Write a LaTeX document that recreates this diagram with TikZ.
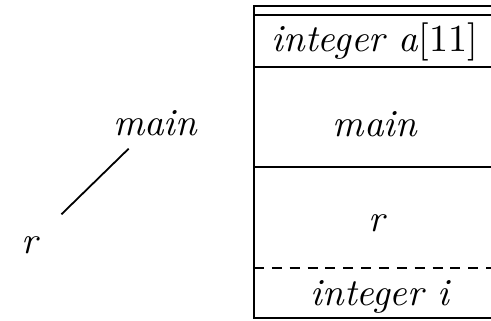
\documentclass[tikz,border=0pt]{standalone}
\begin{document}
\begin{tikzpicture}[x=0.28pt,y=-0.28pt,
  lbl/.style={inner sep=0pt,font=\fontsize{10.7}{13}\selectfont\itshape},
  rule/.style={line width=0.5pt},
  dashrule/.style={line width=0.5pt,dash pattern=on 2.8pt off 2.2pt}]
\useasboundingbox (0,0) rectangle (491,321);
% left-hand labels
\node[lbl] (lmain) at (155,123) {main};
\node[lbl] (lr) at (30,245) {r};
\draw[rule,shorten <=10.3pt,shorten >=12.3pt] (lmain.center) -- (lr.center);
% stack box
\draw[rule] (491,6) -- (254,6) -- (254,318) -- (491,318);
\draw[rule] (254,15) -- (491,15);
\draw[rule] (254,67) -- (491,67);
\draw[rule] (254,167) -- (491,167);
\draw[dashrule] (254,268) -- (491,268);
\node[lbl] (ra) at (375,42) {integer \textit{a}\textup{[11]}};
\node[lbl] (rmain) at (375,124) {main};
\node[lbl] (rr) at (377,223) {r};
\node[lbl] (ri) at (380,297) {integer i};
\end{tikzpicture}
\end{document}
